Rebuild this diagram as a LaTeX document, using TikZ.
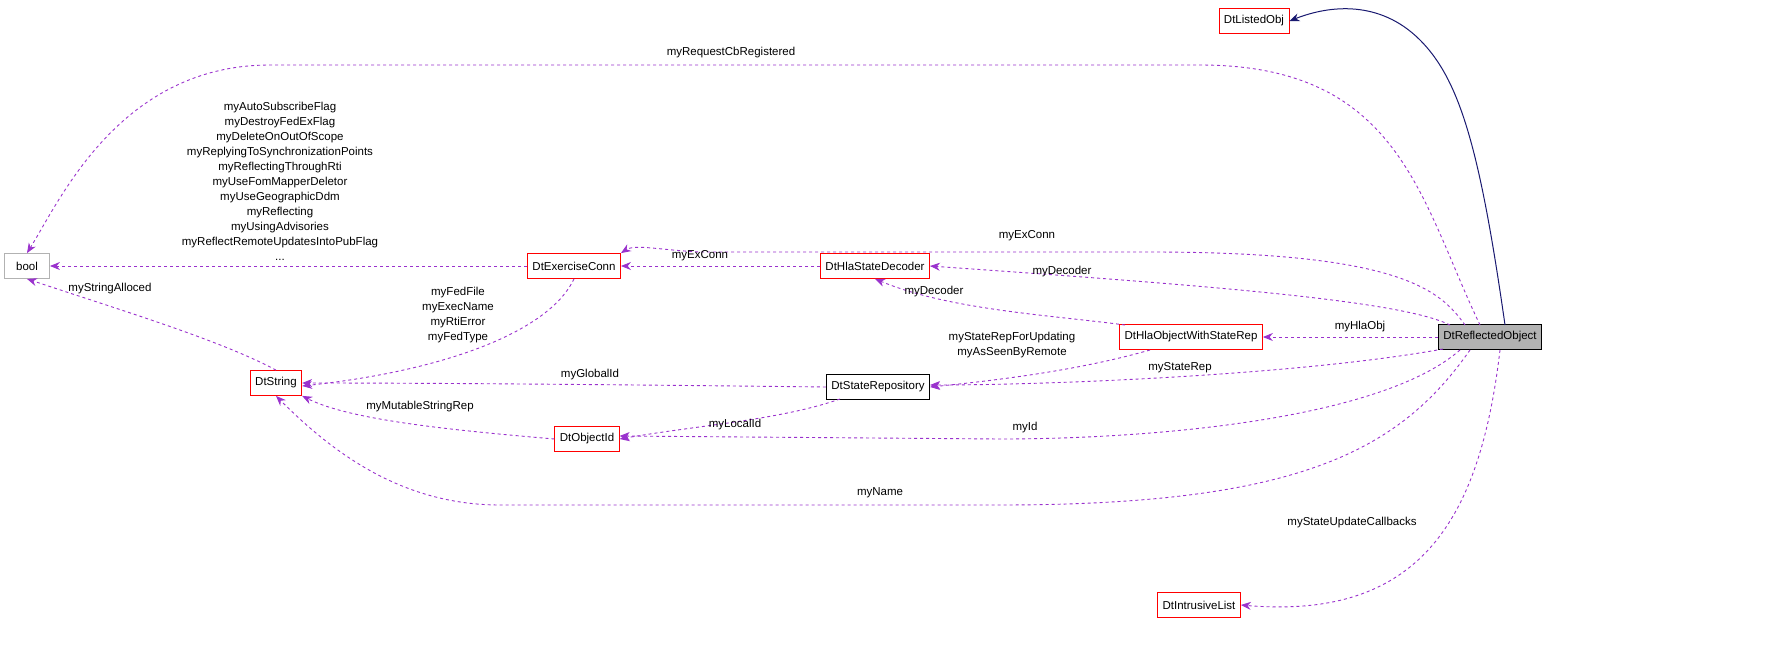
\documentclass[tikz,border=0pt]{standalone}
\usepackage{fontspec}
\setmainfont{Liberation Sans}
\usetikzlibrary{arrows.meta}
\definecolor{pur}{HTML}{9A32CD}
\definecolor{nav}{HTML}{191970}
\begin{document}
\begin{tikzpicture}[x=1pt,y=-1pt,font=\fontsize{11.5}{15}\selectfont,
 box/.style={draw=red,rectangle,minimum height=25pt,inner xsep=5pt,fill=white,line width=0.8pt},
 use/.style={pur,dashed,line width=0.9pt,-{Stealth[length=10pt,width=8pt]}},
 lab/.style={align=center,inner sep=0pt}]
\useasboundingbox (0,0) rectangle (1773,645);
\node[box] (lo) at (1254,21) {DtListedObj};
\node[box,draw=gray!60,minimum width=45pt] (bool) at (27,266) {bool};
\node[box] (ec) at (574,266) {DtExerciseConn};
\node[box] (hsd) at (875,266) {DtHlaStateDecoder};
\node[box] (how) at (1191,337) {DtHlaObjectWithStateRep};
\node[box,draw=black,fill=gray!60] (ro) at (1490,337) {DtReflectedObject};
\node[box] (str) at (276,383) {DtString};
\node[box,draw=black] (sr) at (878,387) {DtStateRepository};
\node[box] (oid) at (587,439) {DtObjectId};
\node[box] (il) at (1199,605) {DtIntrusiveList};
\coordinate (c1) at (1505,325);
\draw[nav,line width=1pt,-{Stealth[length=10pt,width=8pt]}] (c1) .. controls (1480,150) and (1460,80) .. (1420,40) .. controls (1380,0) and (1330,5) .. (lo.east);
\draw[use] (1480,325) .. controls (1420,200) and (1400,65) .. (1200,65) -- (270,65) .. controls (120,65) and (60,200) .. (bool.north);
\node[lab] (l1) at (731,53) {myRequestCbRegistered};
\draw[use] (1465,325) .. controls (1440,290) and (1400,252) .. (1150,252) -- (700,252) .. controls (660,250) and (635,244) .. (ec.north east);
\node[lab] (l2) at (1027,236) {myExConn};
\draw[use] (ec.west) -- (bool.east);
\node[lab] (l3) at (280,181) {myAutoSubscribeFlag\\myDestroyFedExFlag\\myDeleteOnOutOfScope\\myReplyingToSynchronizationPoints\\myReflectingThroughRti\\myUseFomMapperDeletor\\myUseGeographicDdm\\myReflecting\\myUsingAdvisories\\myReflectRemoteUpdatesIntoPubFlag\\...};
\draw[use] (hsd.west) -- (ec.east);
\node[lab] (l4) at (700,256) {myExConn};
\draw[use] (1450,325) .. controls (1400,300) and (1200,285) .. (hsd.east);
\node[lab] (l5) at (1062,272) {myDecoder};
\draw[use] (1125,325) .. controls (1050,315) and (950,310) .. (hsd.south);
\node[lab] (l6) at (934,292) {myDecoder};
\draw[use] (ro.west) -- (how.east);
\node[lab] (l7) at (1360,327) {myHlaObj};
\draw[use] (1150,350) .. controls (1080,370) and (1000,380) .. (sr.east);
\node[lab] (l8) at (1012,345) {myStateRepForUpdating\\myAsSeenByRemote};
\draw[use] (1443,349) .. controls (1300,375) and (1050,385) .. ([yshift=2pt]sr.east);
\node[lab] (l9) at (1180,368) {myStateRep};
\draw[use] (sr.west) .. controls (650,385) and (450,383) .. (str.east);
\node[lab] (l10) at (590,375) {myGlobalId};
\draw[use] (840,399) .. controls (780,420) and (700,425) .. (oid.east);
\node[lab] (l11) at (735,425) {myLocalId};
\draw[use] (1460,350) .. controls (1380,420) and (1150,439) .. (1000,439) -- ([yshift=3pt]oid.east);
\node[lab] (l12) at (1025,428) {myId};
\draw[use] (oid.west) .. controls (450,430) and (350,420) .. (str.south east);
\node[lab] (l13) at (420,407) {myMutableStringRep};
\draw[use] (1470,350) .. controls (1400,450) and (1300,505) .. (1000,505) -- (500,505) .. controls (400,505) and (330,450) .. (str.south);
\node[lab] (l14) at (880,493) {myName};
\draw[use] (ec.south) .. controls (550,330) and (450,370) .. ([yshift=-3pt]str.east);
\node[lab] (l15) at (458,315) {myFedFile\\myExecName\\myRtiError\\myFedType};
\draw[use] (str.north) .. controls (220,340) and (120,310) .. (bool.south);
\node[lab] (l16) at (110,289) {myStringAlloced};
\draw[use] (1500,350) .. controls (1480,520) and (1420,620) .. (il.east);
\node[lab] (l17) at (1352,523) {myStateUpdateCallbacks};
\end{tikzpicture}
\end{document}
